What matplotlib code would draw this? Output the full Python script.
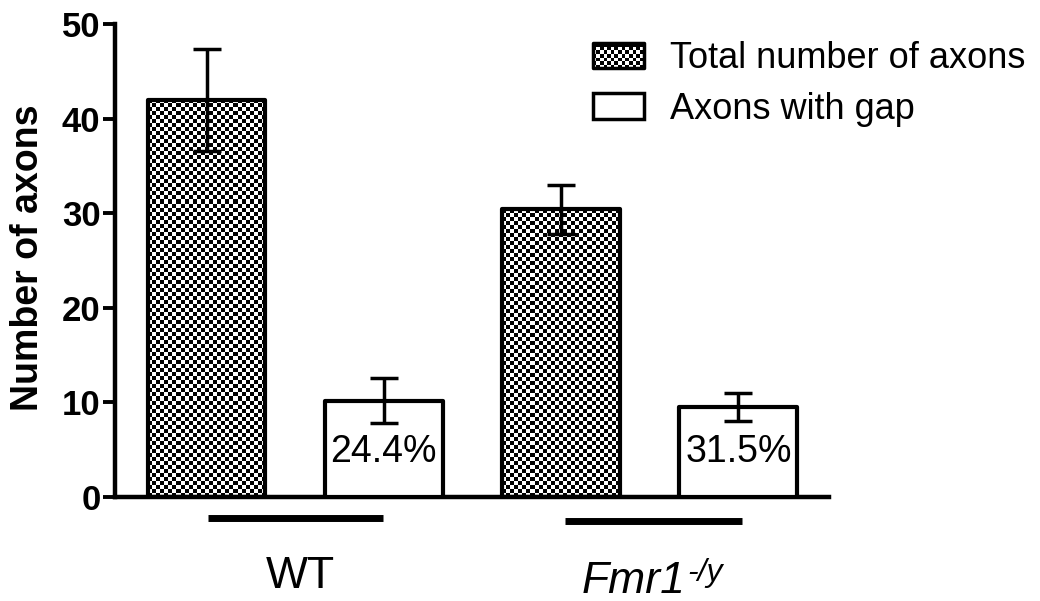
import numpy as np
import matplotlib
matplotlib.use('Agg')
import matplotlib.pyplot as plt
from matplotlib.patches import Rectangle
from matplotlib.legend_handler import HandlerBase

plt.rcParams['font.family'] = ['Liberation Sans', 'DejaVu Sans']

# Data
groups = ['WT', 'Fmr1']
series = ['Total number of axons', 'Axons with gap']
means = [42.0, 10.2, 30.4, 9.5]          # WT total, WT gap, Fmr1 total, Fmr1 gap
errors = [5.4, 2.4, 2.6, 1.45]
percent_labels = ['24.4%', '31.5%']
yticks = [0, 10, 20, 30, 40, 50]


def add_checker(ax, patch, cell_px=4):
    # fill a bar with a black/white checkerboard clipped to the bar outline
    x0, w, h = patch.get_x(), patch.get_width(), patch.get_height()
    p0 = ax.transData.transform((x0, 0))
    p1 = ax.transData.transform((x0 + w, h))
    nx = max(1, int(round((p1[0] - p0[0]) / cell_px)))
    ny = max(1, int(round((p1[1] - p0[1]) / cell_px)))
    grid = np.indices((ny, nx)).sum(axis=0) % 2
    im = ax.imshow(grid, cmap='gray', vmin=0, vmax=1, extent=(x0, x0 + w, 0, h),
                   interpolation='nearest', aspect='auto', zorder=2)
    im.set_clip_path(patch)


class CheckerHandler(HandlerBase):
    def create_artists(self, legend, orig_handle, xdescent, ydescent,
                       width, height, fontsize, trans):
        x0, y0 = -xdescent, -ydescent
        cell = 2.6
        arts = [Rectangle((x0, y0), width, height, facecolor='black',
                          edgecolor='none', transform=trans)]
        nx, ny = int(width / cell), int(height / cell)
        for i in range(nx):
            for j in range(ny):
                if (i + j) % 2 == 0:
                    arts.append(Rectangle((x0 + i * cell, y0 + j * cell), cell, cell,
                                          facecolor='white', edgecolor='none',
                                          antialiased=False, transform=trans))
        arts.append(Rectangle((x0, y0), width, height, facecolor='none',
                              edgecolor='black', lw=2.5, joinstyle='round',
                              transform=trans))
        return arts


fig = plt.figure(figsize=(10.4, 6.01), dpi=100)
ax = fig.add_axes([0.1106, 0.173, 0.6865, 0.787])

x = np.arange(len(means))
ax.set_xlim(-0.516, 3.511)
ax.set_ylim(0, 50)
ax.set_autoscale_on(False)

bars = ax.bar(x, means, width=0.665, facecolor='white', edgecolor='black',
              linewidth=3, zorder=3)
for b in bars:
    b.set_joinstyle('round')
# total bars get the checker fill, edges stay on top
for i in (0, 2):
    bars[i].set_facecolor('none')
    add_checker(ax, bars[i])

ax.errorbar(x, means, yerr=errors, fmt='none', ecolor='black', elinewidth=2.5,
            capsize=10.4, capthick=2.5, zorder=4)

# percentage labels inside the gap bars
for i, lab in zip((1, 3), percent_labels):
    ax.text(x[i], 4.8, lab, ha='center', va='center', fontsize=27, zorder=5)

# axes styling
for s in ['top', 'right']:
    ax.spines[s].set_visible(False)
ax.spines['left'].set_linewidth(3.2)
ax.spines['bottom'].set_linewidth(3.2)
ax.set_xticks([])
ax.set_yticks(yticks)
ax.tick_params(axis='y', length=8.5, width=2.8, pad=2, labelsize=25)
for t in ax.get_yticklabels():
    t.set_fontweight('bold')

ax.text(-0.122, 0.505, 'Number of axons', transform=ax.transAxes, rotation=90,
        ha='center', va='center', fontsize=27, fontweight='bold')

# group lines and labels under the axis
ax.plot([0.008, 0.995], [-2.2, -2.2], color='black', lw=5, clip_on=False,
        solid_capstyle='butt')
ax.plot([2.02, 3.02], [-2.5, -2.5], color='black', lw=5, clip_on=False,
        solid_capstyle='butt')
ax.text(0.527, -9.62, groups[0], ha='center', va='baseline', fontsize=32)
ft = ax.text(2.118, -10.15, groups[1], ha='left', va='baseline', fontsize=32,
             style='italic')
ax.annotate('-/y', xy=(1, 1), xycoords=ft, xytext=(1, 2), textcoords='offset points',
            ha='left', va='top', fontsize=23, style='italic')

# legend
h1 = Rectangle((0, 0), 1, 1, facecolor='none', edgecolor='black', lw=2.5)
h2 = Rectangle((0, 0), 1, 1, facecolor='white', edgecolor='black', lw=2.5)
fig.legend([h1, h2], series, handler_map={h1: CheckerHandler()},
           loc='upper left', bbox_to_anchor=(0.570, 0.931), frameon=False,
           fontsize=26, borderpad=0, borderaxespad=0, handlelength=1.41,
           handleheight=0.69, handletextpad=0.72, labelspacing=0.42)

fig.savefig('out.png', dpi=100)
